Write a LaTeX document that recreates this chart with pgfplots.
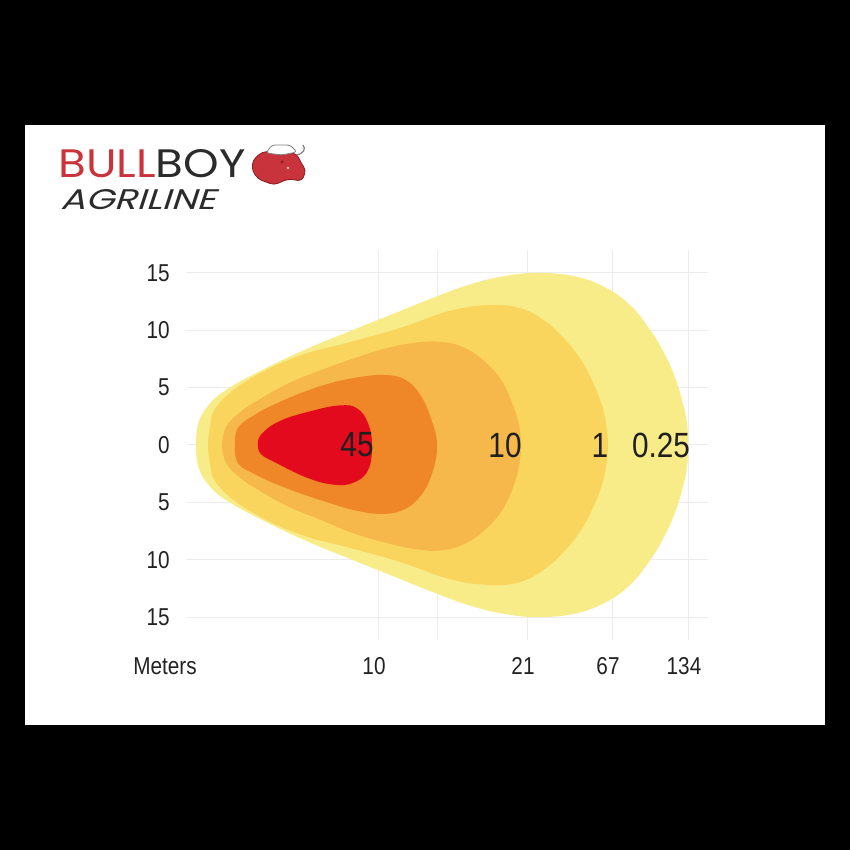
\documentclass[border=0pt]{standalone}
\usepackage{pgfplots}
\pgfplotsset{compat=1.18}
\usepackage{fontspec}
\setmainfont{Liberation Sans}
\newfontfamily\narrow{Liberation Sans}[FakeStretch=0.85]
\newfontfamily\logofont{Poppins}
\newfontfamily\logoital{Poppins}[FakeSlant=0.25]
\definecolor{cpale}{HTML}{F8EC88}
\definecolor{cyel}{HTML}{FAD55D}
\definecolor{clor}{HTML}{F6B84A}
\definecolor{cor}{HTML}{EF8627}
\definecolor{cred}{HTML}{E20A1C}
\definecolor{bullred}{HTML}{C9333B}
\definecolor{bulldark}{HTML}{8A1A1E}
\definecolor{boygray}{HTML}{2B2B2B}
\definecolor{gridc}{HTML}{ECECEC}
\definecolor{tickc}{HTML}{222222}
\begin{document}
\begin{tikzpicture}
\fill[black] (0,0) rectangle (425pt,425pt);
\fill[white] (12.5pt,62.5pt) rectangle (412.5pt,362.5pt);
\begin{axis}[
  at={(93pt,105pt)}, anchor=south west,
  scale only axis, width=261pt, height=195pt,
  xmin=186, xmax=708, ymin=-17, ymax=17,
  axis line style={draw=none}, major tick length=0pt,
  xtick={378,437,527,612,688}, xticklabels={10,,21,67,134},
  ytick={-15,-10,-5,0,5,10,15}, yticklabels={15,10,5,0,5,10,15},
  grid=major, major grid style={color=gridc, line width=0.5pt},
  tick label style={font=\narrow\fontsize{12.2}{14}\selectfont, text=tickc},
  yticklabel style={inner sep=0pt, xshift=-8pt},
  xticklabel style={inner sep=0pt, yshift=-8.5pt, xshift=-2pt},
]
% 0.25 lux
\addplot[fill=cpale, draw=none, smooth, tension=0.7] coordinates {
(196,0) (198,1.8) (207,3.3) (226,4.8) (268,6.8) (310,8.5) (352,10.0) (395,11.5) (435,12.9) (470,14.0) (503,14.7) (537,15.0) (575,14.7) (606,13.7) (630,12.2) (648,10.3) (663,8.2) (675,5.9) (683,3.6) (687,1.9) (688,0) (687,-1.9) (683,-3.6) (675,-5.9) (663,-8.2) (648,-10.3) (630,-12.2) (606,-13.7) (575,-14.7) (537,-15.0) (503,-14.7) (470,-14.0) (435,-12.9) (395,-11.5) (352,-10.0) (310,-8.5) (268,-6.8) (226,-4.8) (207,-3.3) (198,-1.8) (196,0)
} -- cycle;
% 1 lux
\addplot[fill=cyel, draw=none, smooth, tension=0.7] coordinates {
(208,0) (210,1.6) (217,3.4) (247,5.6) (297,7.7) (347,8.9) (400,10.2) (450,11.7) (490,12.2) (520,11.94) (545,10.8) (565,9.2) (580,7.55) (592,5.64) (601,3.72) (606,1.88) (608,0) (606,-1.88) (601,-3.72) (592,-5.64) (580,-7.55) (565,-9.2) (545,-10.8) (520,-11.94) (490,-12.2) (450,-11.7) (400,-10.2) (347,-8.9) (297,-7.7) (247,-5.6) (217,-3.4) (210,-1.6) (208,0)
} -- cycle;
% 10 lux
\addplot[fill=clor, draw=none, smooth, tension=0.7] coordinates {
(222,0) (226,1.55) (240,2.85) (260,4.0) (289,5.4) (320,6.5) (352,7.5) (385,8.4) (414,8.9) (440,9.0) (465,8.45) (487,7.1) (503,5.4) (513,3.45) (519,1.7) (521,0) (519,-1.8) (513,-3.7) (502,-5.7) (486,-7.3) (465,-8.6) (440,-9.2) (414,-9.05) (385,-8.5) (352,-7.65) (320,-6.5) (289,-5.4) (260,-4.0) (240,-2.85) (226,-1.55) (222,0)
} -- cycle;
% orange
\addplot[fill=cor, draw=none, smooth, tension=0.7] coordinates {
(235,0) (238,1.5) (256,2.7) (276,3.6) (303,4.6) (331,5.4) (358,5.9) (385,6.1) (405,5.7) (420,4.4) (431,2.3) (437,0) (432,-2.5) (420,-4.5) (402,-5.7) (380,-6.0) (355,-5.7) (331,-5.1) (303,-4.3) (276,-3.4) (256,-2.6) (238,-1.6) (235,0)
} -- cycle;
% 45 lux
\addplot[fill=cred, draw=none, smooth, tension=0.7] coordinates {
(258,0) (261,0.9) (280,2.1) (313,3.0) (340,3.45) (357,3.2) (368,1.9) (372,0) (368,-2.2) (353,-3.3) (333,-3.45) (307,-2.85) (277,-1.6) (261,-0.8) (258,0)
} -- cycle;
\node[font=\narrow\fontsize{17.5}{20}\selectfont, text=black!88, inner sep=0pt] at (axis cs:357,0) {45};
\node[font=\narrow\fontsize{17.5}{20}\selectfont, text=black!88, inner sep=0pt] at (axis cs:505,0) {10};
\node[font=\narrow\fontsize{17.5}{20}\selectfont, text=black!88, inner sep=0pt] at (axis cs:600,0) {1};
\node[font=\narrow\fontsize{17.5}{20}\selectfont, text=black!88, inner sep=0pt] at (axis cs:661,0) {0.25};
\end{axis}
\begin{scope}[shift={(0pt,425pt)}, x=0.5pt, y=-0.5pt]
\node[anchor=north, inner sep=0pt, font=\narrow\fontsize{12.2}{14}\selectfont, text=tickc] at (165,657) {Meters};
\node[anchor=south west, inner sep=0pt] at (58,178) {\resizebox{93.5pt}{14pt}{\logofont\textcolor{bullred}{BULL}\textcolor{boygray}{BOY}}};
\node[anchor=south west, inner sep=0pt] at (60,210) {\resizebox{77.5pt}{10pt}{\logoital\textcolor{boygray}{AGRILINE}}};
% bull head
\fill[bullred, draw=bulldark, line width=0.4pt, rounded corners=2pt] (253,160) -- (262,152) -- (280,151) -- (297,154) -- (301,163) -- (306,170) -- (302,181) -- (288,179) -- (274,185) -- (258,179) -- (252,170) -- cycle;
\fill[white, draw=black!50, line width=0.4pt, rounded corners=1.5pt] (266,153) -- (272,145) -- (290,145) -- (297,152) -- (282,155) -- cycle;
\draw[black!50, line width=0.6pt] (297,155) .. controls (304,153) and (306,149) .. (303,145);
\fill[bulldark] (282,162) circle (1.6);
\fill[white] (288,168) circle (1.2);
\end{scope}
\end{tikzpicture}
\end{document}
